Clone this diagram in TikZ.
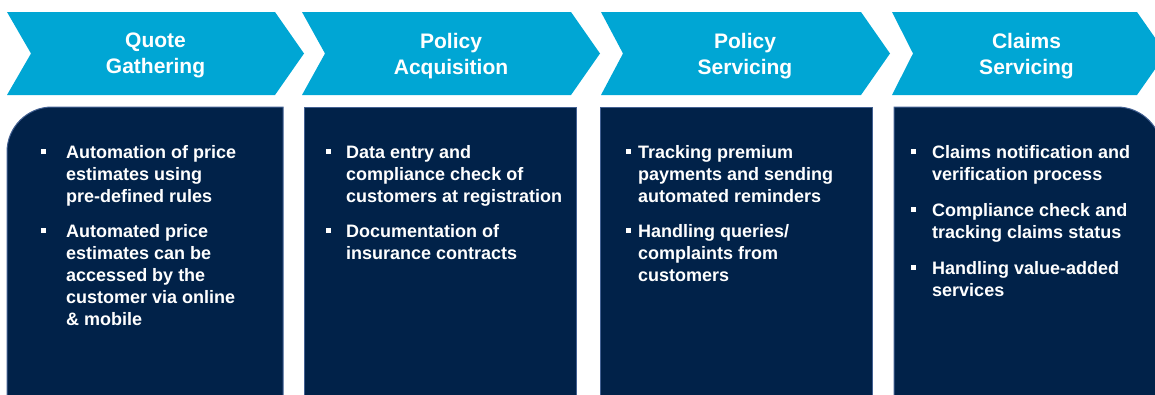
\documentclass[tikz,border=0pt]{standalone}
\usepackage{fontspec}
\setmainfont{Liberation Sans}
\usetikzlibrary{positioning}
\definecolor{chevblue}{RGB}{0,166,212}
\definecolor{panelnavy}{RGB}{1,34,73}
\definecolor{paneledge}{RGB}{66,96,146}
\tikzset{
    stage/.style={
        anchor=north,
        align=center,
        inner sep=0pt,
        text=white,
        font=\bfseries\fontsize{21}{26}\selectfont
    },
    chevron/.style={
        fill=chevblue
    },
    panel/.style={
        fill=panelnavy,
        draw=paneledge,
        line width=1pt
    },
    item/.style={
        anchor=north west,
        align=left,
        inner sep=0pt,
        text=white,
        font=\bfseries\fontsize{18}{22}\selectfont
    },
    dot/.style={
        fill=white,
        minimum size=5pt,
        inner sep=0pt
    }
}

\begin{document}
\begin{tikzpicture}[x=1pt,y=-1pt]
  \useasboundingbox (0,0) rectangle (1155,394);

  % process chevrons
  \fill[chevron] (7,12) -- (275,12) -- (304,53.5) -- (275,95) -- (7,95) -- (31,53.5) -- cycle;
  \fill[chevron] (302,12) -- (571,12) -- (600,53.5) -- (571,95) -- (302,95) -- (325,53.5) -- cycle;
  \fill[chevron] (601,12) -- (861,12) -- (890,53.5) -- (861,95) -- (601,95) -- (623,53.5) -- cycle;
  \fill[chevron] (892,12) -- (1137,12) -- (1166,53.5) -- (1137,95) -- (892,95) -- (913,53.5) -- cycle;

  \node at (155.5,33) (QG) [stage] {Quote\\Gathering};
  \node at (451,33) (PA) [stage] {Policy\\Acquisition};
  \node at (745,33) (PS) [stage] {Policy\\Servicing};
  \node at (1026.5,33) (CS) [stage] {Claims\\Servicing};

  % panels
  \draw[panel] (7,430) -- (7,152) arc[start angle=180, end angle=90, radius=45pt] -- (283,107) -- (283,430) -- cycle;
  \draw[panel] (304,430) -- (304,107) -- (576,107) -- (576,430) -- cycle;
  \draw[panel] (600,430) -- (600,107) -- (872,107) -- (872,430) -- cycle;
  \draw[panel] (894,430) -- (894,107) -- (1117,107) arc[start angle=90, end angle=0, radius=45pt] -- (1162,430) -- cycle;

  % quote gathering
  \node at (43,151) (QGb1) [dot] {};
  \node at (66,145) (QG1) [item] {Automation of price\\estimates using\\pre-defined rules};
  \node at (43,230) (QGb2) [dot] {};
  \node at (66,224) (QG2) [item] {Automated price\\estimates can be\\accessed by the\\customer via online\\\& mobile};

  % policy acquisition
  \node at (328,151) (PAb1) [dot] {};
  \node at (346,145) (PA1) [item] {Data entry and\\compliance check of\\customers at registration};
  \node at (328,230) (PAb2) [dot] {};
  \node at (346,224) (PA2) [item] {Documentation of\\insurance contracts};

  % policy servicing
  \node at (628,151) (PSb1) [dot] {};
  \node at (638,145) (PS1) [item] {Tracking premium\\payments and sending\\automated reminders};
  \node at (628,230) (PSb2) [dot] {};
  \node at (638,224) (PS2) [item] {Handling queries/\\complaints from\\customers};

  % claims servicing
  \node at (913,151) (CSb1) [dot] {};
  \node at (932,145) (CS1) [item] {Claims notification and\\verification process};
  \node at (913,209) (CSb2) [dot] {};
  \node at (932,203) (CS2) [item] {Compliance check and\\tracking claims status};
  \node at (913,267) (CSb3) [dot] {};
  \node at (932,261) (CS3) [item] {Handling value-added\\services};

\end{tikzpicture}
\end{document}
